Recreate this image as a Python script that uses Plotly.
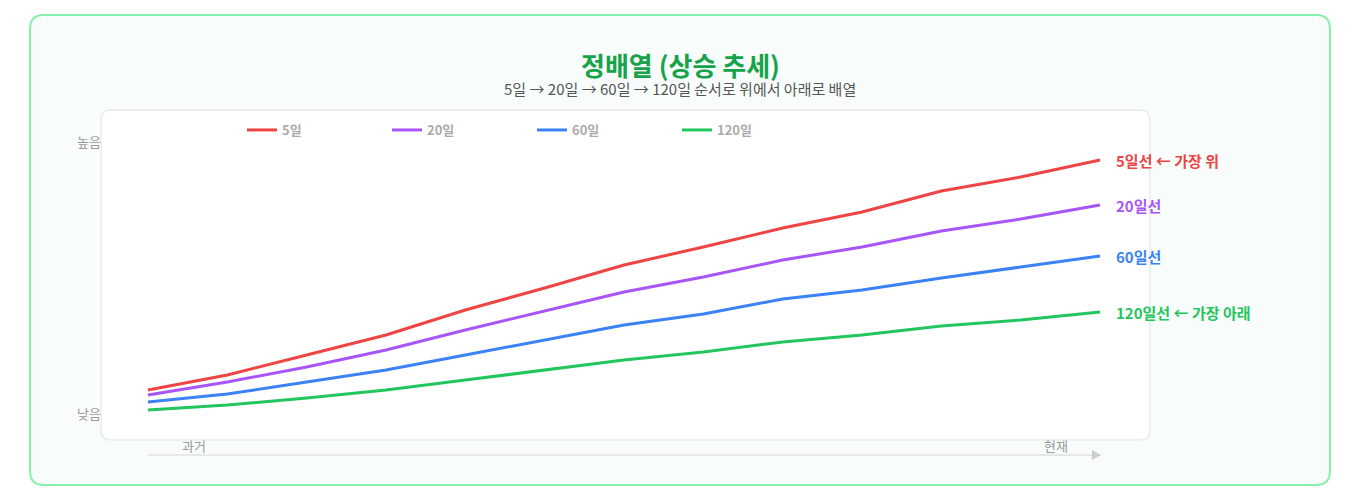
import plotly.graph_objects as go

W, H = 1344, 484
O = 8
x_idx = list(range(13))
ma5 = [50, 65, 85, 105, 130, 152, 175, 193, 212, 228, 249, 263, 280]
ma20 = [45, 58, 73, 90, 110, 129, 148, 163, 180, 193, 209, 221, 235]
ma60 = [38, 46, 58, 70, 85, 100, 115, 126, 141, 150, 162, 173, 184]
ma120 = [30, 35, 42, 50, 60, 70, 80, 88, 98, 105, 114, 120, 128]
names = ["5일", "20일", "60일", "120일"]
end_labels = ["5일선 ← 가장 위", "20일선", "60일선", "120일선 ← 가장 아래"]
colors = ["#ef4444", "#a855f7", "#3b82f6", "#22c55e"]
series = [ma5, ma20, ma60, ma120]

def px(x):
    return (x - O) / W

def py(y):
    return 1 - (y - O) / H

FONT = "Noto Sans CJK KR"
fig = go.Figure()
for s, n, c in zip(series, names, colors):
    fig.add_trace(go.Scatter(x=x_idx, y=s, name=n, mode="lines",
                             line=dict(color=c, width=3)))

def rr(x0, y0, x1, y1, r):
    def P(x, y):
        return f"{px(x):.5f},{py(y):.5f}"
    return (f"M{P(x0+r,y0)} L{P(x1-r,y0)} Q{P(x1,y0)} {P(x1,y0+r)} "
            f"L{P(x1,y1-r)} Q{P(x1,y1)} {P(x1-r,y1)} L{P(x0+r,y1)} "
            f"Q{P(x0,y1)} {P(x0,y1-r)} L{P(x0,y0+r)} Q{P(x0,y0)} {P(x0+r,y0)} Z")

shapes = [
    dict(type="path", xref="paper", yref="paper", path=rr(30, 15, 1330, 485, 14),
         line=dict(color="#86efac", width=2), fillcolor="#f8fdfb", layer="below"),
    dict(type="path", xref="paper", yref="paper", path=rr(101, 110, 1150, 440, 10),
         line=dict(color="#e8ecee", width=1.5), fillcolor="#ffffff", layer="below"),
    dict(type="line", xref="paper", yref="paper", x0=px(148), x1=px(1093),
         y0=py(455), y1=py(455), line=dict(color="#e5e7eb", width=2)),
    dict(type="path", xref="paper", yref="paper",
         path=f"M{px(1092)},{py(450)} L{px(1101)},{py(455)} L{px(1092)},{py(460)} Z",
         fillcolor="#cccccc", line=dict(width=0)),
]

ann = [
    dict(x=px(680), y=py(44), xref="paper", yref="paper", text="<b>정배열 (상승 추세)</b>",
         showarrow=False, font=dict(size=26, color="#16a34a")),
    dict(x=px(680), y=py(76), xref="paper", yref="paper",
         text="5일 → 20일 → 60일 → 120일 순서로 위에서 아래로 배열",
         showarrow=False, font=dict(size=15, color="#555555")),
    dict(x=px(75), y=py(130), xref="paper", yref="paper", text="높음",
         showarrow=False, font=dict(size=13, color="#999999")),
    dict(x=px(75), y=py(425), xref="paper", yref="paper", text="낮음",
         showarrow=False, font=dict(size=13, color="#999999")),
    dict(x=px(180), y=py(457), xref="paper", yref="paper", text="과거",
         showarrow=False, font=dict(size=13, color="#999999")),
    dict(x=px(1070), y=py(457), xref="paper", yref="paper", text="현재",
         showarrow=False, font=dict(size=13, color="#999999")),
]
for s, t, c in zip(series, end_labels, colors):
    ann.append(dict(x=x_idx[-1], y=s[-1], text=f"<b>{t}</b>", xanchor="left",
                    xshift=14, showarrow=False, font=dict(size=15, color=c)))

fig.update_layout(
    width=W, height=H, margin=dict(l=0, r=0, t=0, b=0),
    paper_bgcolor="white", plot_bgcolor="rgba(0,0,0,0)",
    font=dict(family=FONT),
    xaxis=dict(domain=[px(101), px(1150)], range=[-0.592, 12.63], visible=False),
    yaxis=dict(domain=[py(440), py(110)], range=[0, 330], visible=False),
    shapes=shapes, annotations=ann,
    legend=dict(orientation="h", x=px(532), xanchor="center", y=py(130), yanchor="middle",
                font=dict(size=13, color="#aaaaaa", weight="bold"),
                bgcolor="rgba(0,0,0,0)", itemwidth=30, entrywidth=100, entrywidthmode="pixels"),
)
fig.write_html("out.html")
